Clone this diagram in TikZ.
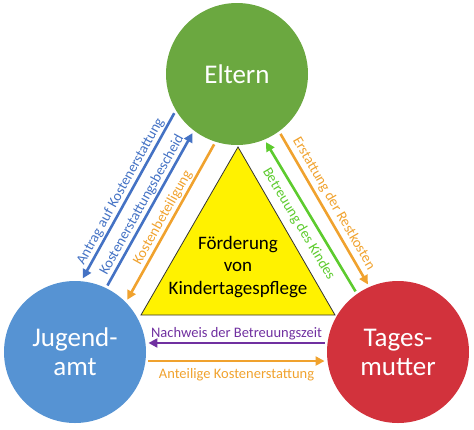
\documentclass[tikz,border=0pt]{standalone}
\usepackage{fontspec}
\setmainfont{Carlito}
\usetikzlibrary{arrows.meta, shapes.geometric}
\definecolor{elterngreen}{HTML}{6BA840}
\definecolor{amtblue}{HTML}{5693D3}
\definecolor{mutterred}{HTML}{D2323C}
\definecolor{flowblue}{HTML}{4472C4}
\definecolor{floworange}{HTML}{F0A22E}
\definecolor{flowgreen}{HTML}{5DCB2E}
\definecolor{flowpurple}{HTML}{7030A0}

\begin{document}
\begin{tikzpicture}[x=1pt, y=-1pt,
        >={Triangle[length=9pt, width=9pt]},
        party/.style={circle, minimum size=142pt, inner sep=0pt, outer sep=3pt, align=center,
            text=white, font=\fontsize{27}{29}\selectfont},
        flow/.style={line width=2.6pt},
        lab/.style={font=\fontsize{14.5}{16}\selectfont, inner sep=1.5pt, sloped},
    ]
    \useasboundingbox (0,0) rectangle (474,429);
    % Beteiligte
    \node[party, fill=elterngreen] (eltern) at (237,74) {Eltern};
    \node[party, fill=amtblue] (jugend) at (75,352) {Jugend-\\amt};
    \node[party, fill=mutterred] (mutter) at (398,352) {Tages-\\mutter};
    % Dreieck in der Mitte
    \node[regular polygon, regular polygon sides=3, minimum size=224pt, inner sep=0pt, outer sep=0pt,
        fill=yellow, draw=black!80, line width=0.8pt] (tri) at (238,259) {};
    \node[font=\fontsize{19}{22.5}\selectfont, align=center] (foerd) at (238,267)
        {Förderung\\von\\Kindertagespflege};
    % Eltern -- Jugendamt
    \draw[flow, <-, flowblue] (jugend.84) -- node[lab, above, text=flowblue] {Antrag auf Kostenerstattung} (eltern.212);
    \draw[flow, ->, flowblue] (jugend.64.5) -- node[lab, above, text=flowblue] {Kostenerstattungsbescheid} (eltern.233.6);
    \draw[flow, <-, floworange] (jugend.45) -- node[lab, above, text=floworange] {Kostenbeteiligung} (eltern.252.8);
    % Eltern -- Tagesmutter
    \draw[flow, <-, flowgreen] (eltern.293.8) -- node[lab, below=5pt, text=flowgreen] {Betreuung des Kindes} (mutter.125.6);
    \draw[flow, ->, floworange] (eltern.306.6) -- node[lab, above=2pt, text=floworange] {Erstattung der Restkosten} (mutter.114.2);
    % Jugendamt -- Tagesmutter
    \draw[flow, <-, flowpurple] (jugend.7) -- node[lab, above, text=flowpurple] {Nachweis der Betreuungszeit} (mutter.173);
    \draw[flow, ->, floworange] (jugend.353) -- node[lab, below=5pt, text=floworange] {Anteilige Kostenerstattung} (mutter.187);
\end{tikzpicture}
\end{document}
